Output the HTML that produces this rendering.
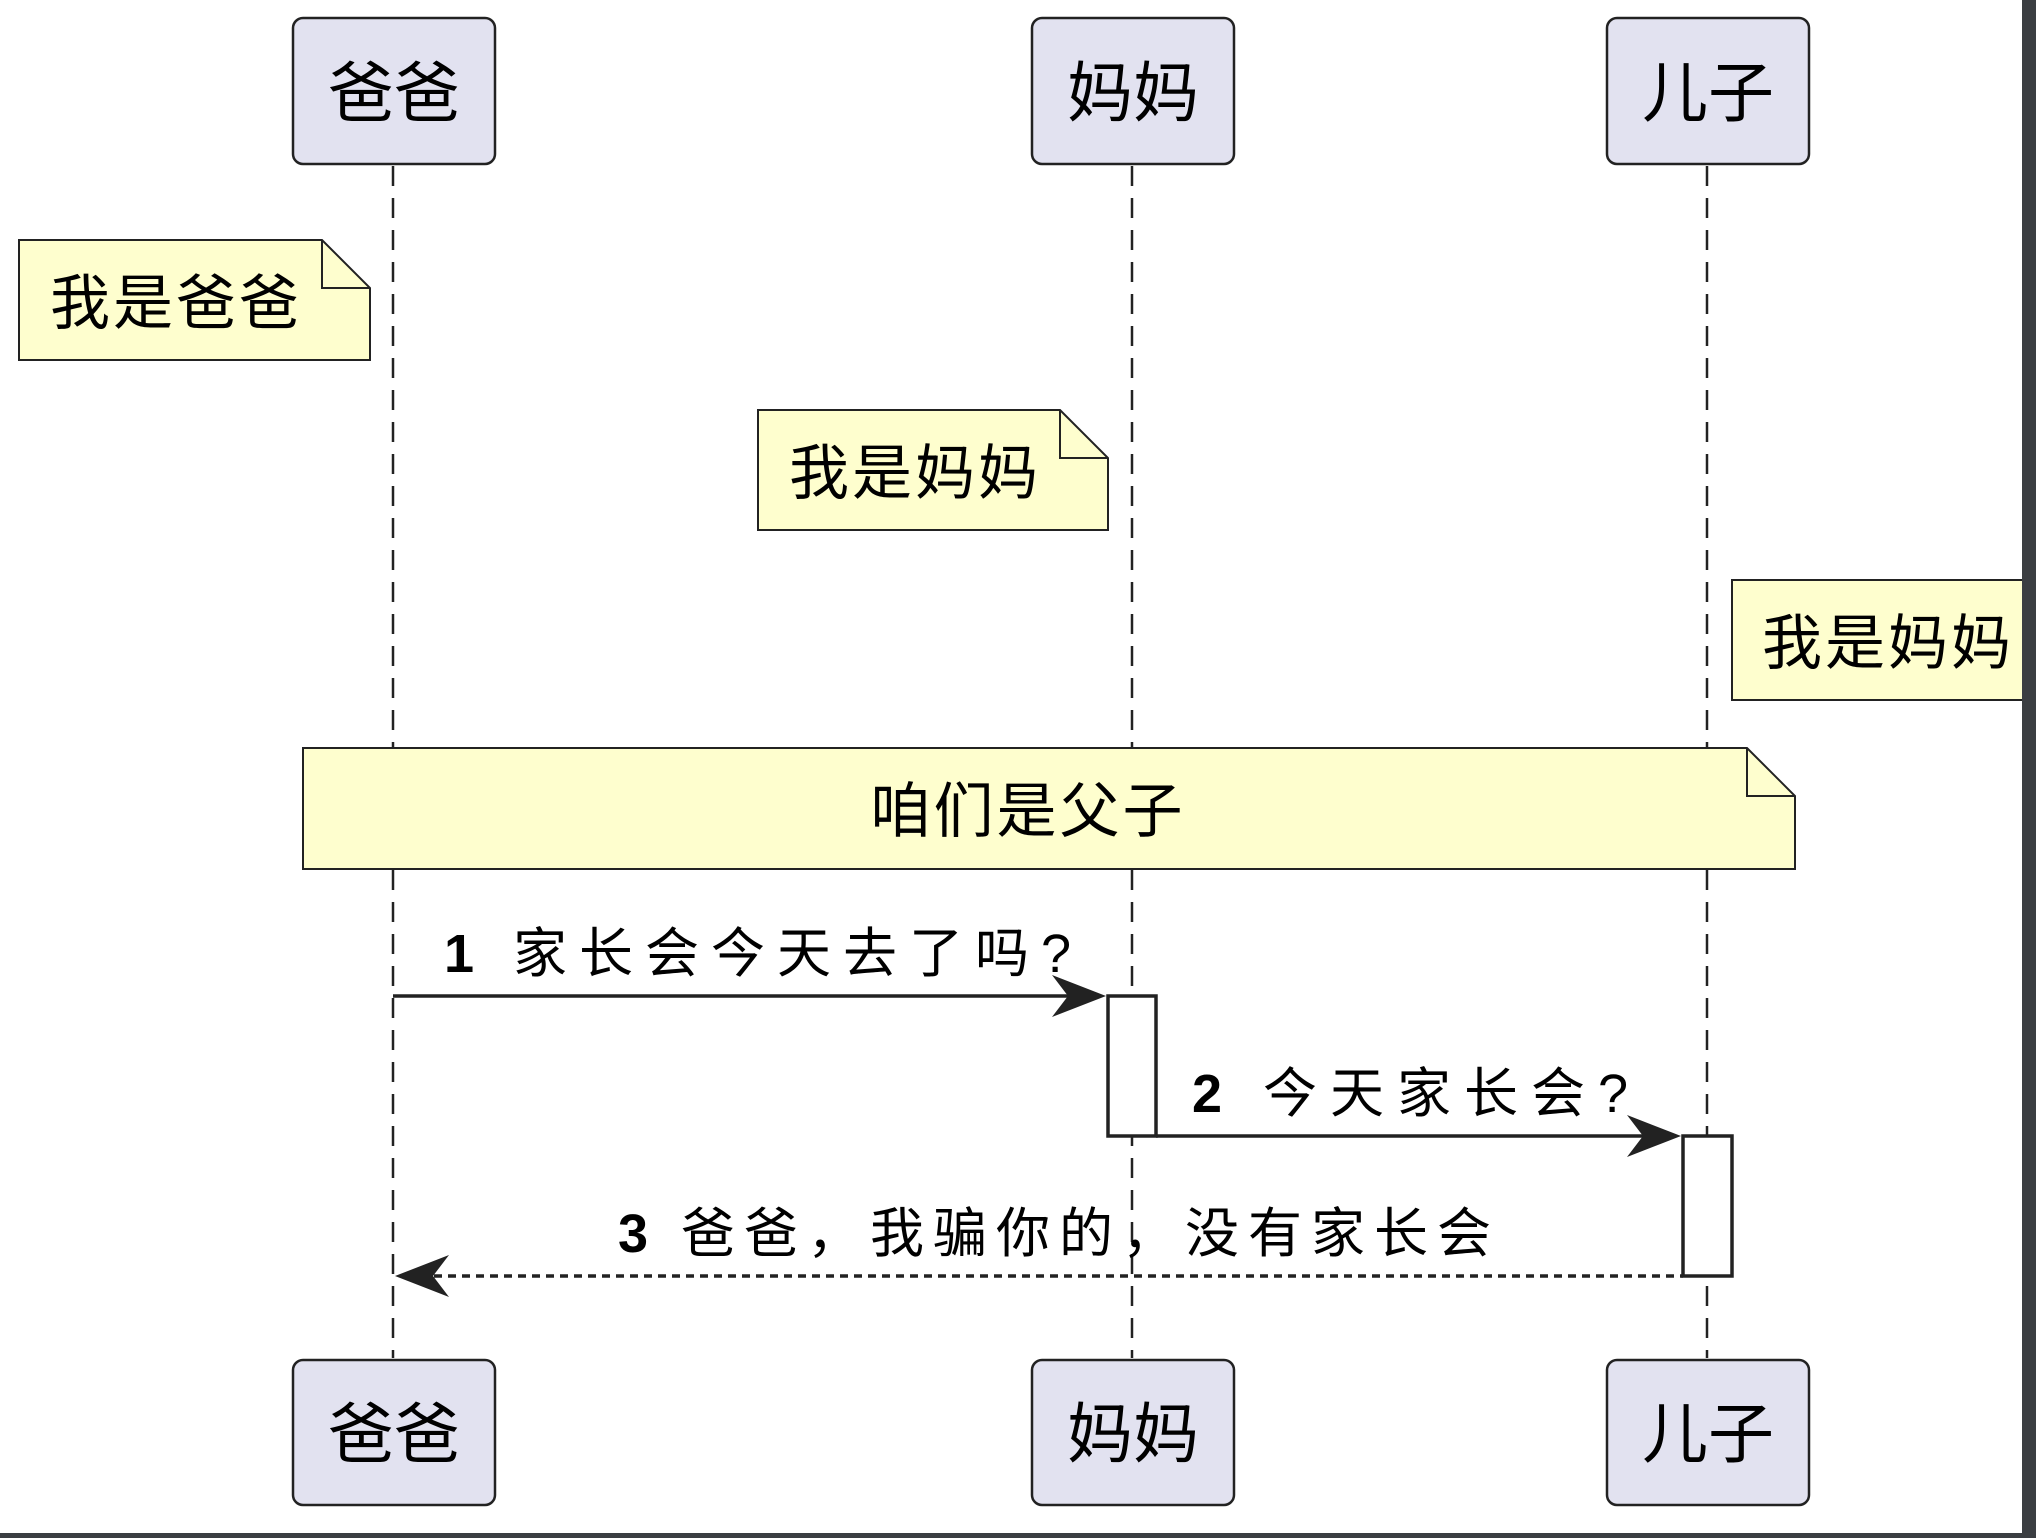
<!DOCTYPE html>
<html><head><meta charset="utf-8"><style>
html,body{margin:0;padding:0;background:#fff;}
svg{display:block;}
text{font-family:"Liberation Sans","Noto Sans CJK SC",sans-serif;fill:#000;}
</style></head><body>
<svg width="2036" height="1538" viewBox="0 0 2036 1538" xmlns="http://www.w3.org/2000/svg">
<rect width="2036" height="1538" fill="#fff"/>
<g stroke="#222" stroke-width="2.5" stroke-dasharray="20,12">
<line x1="393" y1="166" x2="393" y2="1358"/>
<line x1="1132" y1="166" x2="1132" y2="1358"/>
<line x1="1707" y1="166" x2="1707" y2="1358"/>
</g>
<g fill="#e2e2f0" stroke="#222" stroke-width="2.5">
<rect x="293" y="18" width="202" height="146" rx="10"/>
<rect x="1032" y="18" width="202" height="146" rx="10"/>
<rect x="1607" y="18" width="202" height="146" rx="10"/>
<rect x="293" y="1360" width="202" height="145" rx="10"/>
<rect x="1032" y="1360" width="202" height="145" rx="10"/>
<rect x="1607" y="1360" width="202" height="145" rx="10"/>
</g>
<g font-size="66" text-anchor="middle">
<text x="394" y="116">爸爸</text>
<text x="1133" y="116">妈妈</text>
<text x="1708" y="116">儿子</text>
<text x="394" y="1457">爸爸</text>
<text x="1133" y="1457">妈妈</text>
<text x="1708" y="1457">儿子</text>
</g>
<g fill="#fefece" stroke="#222" stroke-width="2">
<path d="M19 240 H322 L370 288 V360 H19 Z"/>
<path d="M758 410 H1060 L1108 458 V530 H758 Z"/>
<path d="M1732 580 H2030 V700 H1732 Z"/>
<path d="M303 748 H1747 L1795 796 V869 H303 Z"/>
</g>
<g fill="none" stroke="#222" stroke-width="2">
<path d="M322 240 V288 H370"/>
<path d="M1060 410 V458 H1108"/>
<path d="M1747 748 V796 H1795"/>
</g>
<g font-size="60" letter-spacing="3">
<text x="50" y="324">我是爸爸</text>
<text x="789" y="494">我是妈妈</text>
<text x="1762" y="664">我是妈妈</text>
<text x="1028" y="832" text-anchor="middle">咱们是父子</text>
</g>
<g fill="#fff" stroke="#222" stroke-width="3.5">
<rect x="1108" y="996" width="48" height="140"/>
<rect x="1683" y="1136" width="49" height="140"/>
</g>
<line x1="393" y1="996" x2="1095" y2="996" stroke="#222" stroke-width="3.5"/>
<path d="M1106 996 L1052 975 L1068 996 L1052 1017 Z" fill="#222"/>
<line x1="1156" y1="1136" x2="1670" y2="1136" stroke="#222" stroke-width="3.5"/>
<path d="M1681 1136 L1627 1115 L1643 1136 L1627 1157 Z" fill="#222"/>
<line x1="406" y1="1276" x2="1683" y2="1276" stroke="#222" stroke-width="3.5" stroke-dasharray="8,6"/>
<path d="M395 1276 L449 1255 L433 1276 L449 1297 Z" fill="#222"/>
<g font-size="54">
<text x="444" y="972" letter-spacing="12"><tspan font-weight="bold">1</tspan> 家长会今天去了吗?</text>
<text x="1192" y="1112" letter-spacing="13"><tspan font-weight="bold">2</tspan> 今天家长会?</text>
<text x="618" y="1252" letter-spacing="9"><tspan font-weight="bold">3</tspan> 爸爸，我骗你的，没有家长会</text>
</g>
<rect x="2022" y="0" width="14" height="1538" fill="#3b3e42"/>
<rect x="0" y="1533" width="2036" height="5" fill="#3b3e42"/>
</svg>
</body></html>
